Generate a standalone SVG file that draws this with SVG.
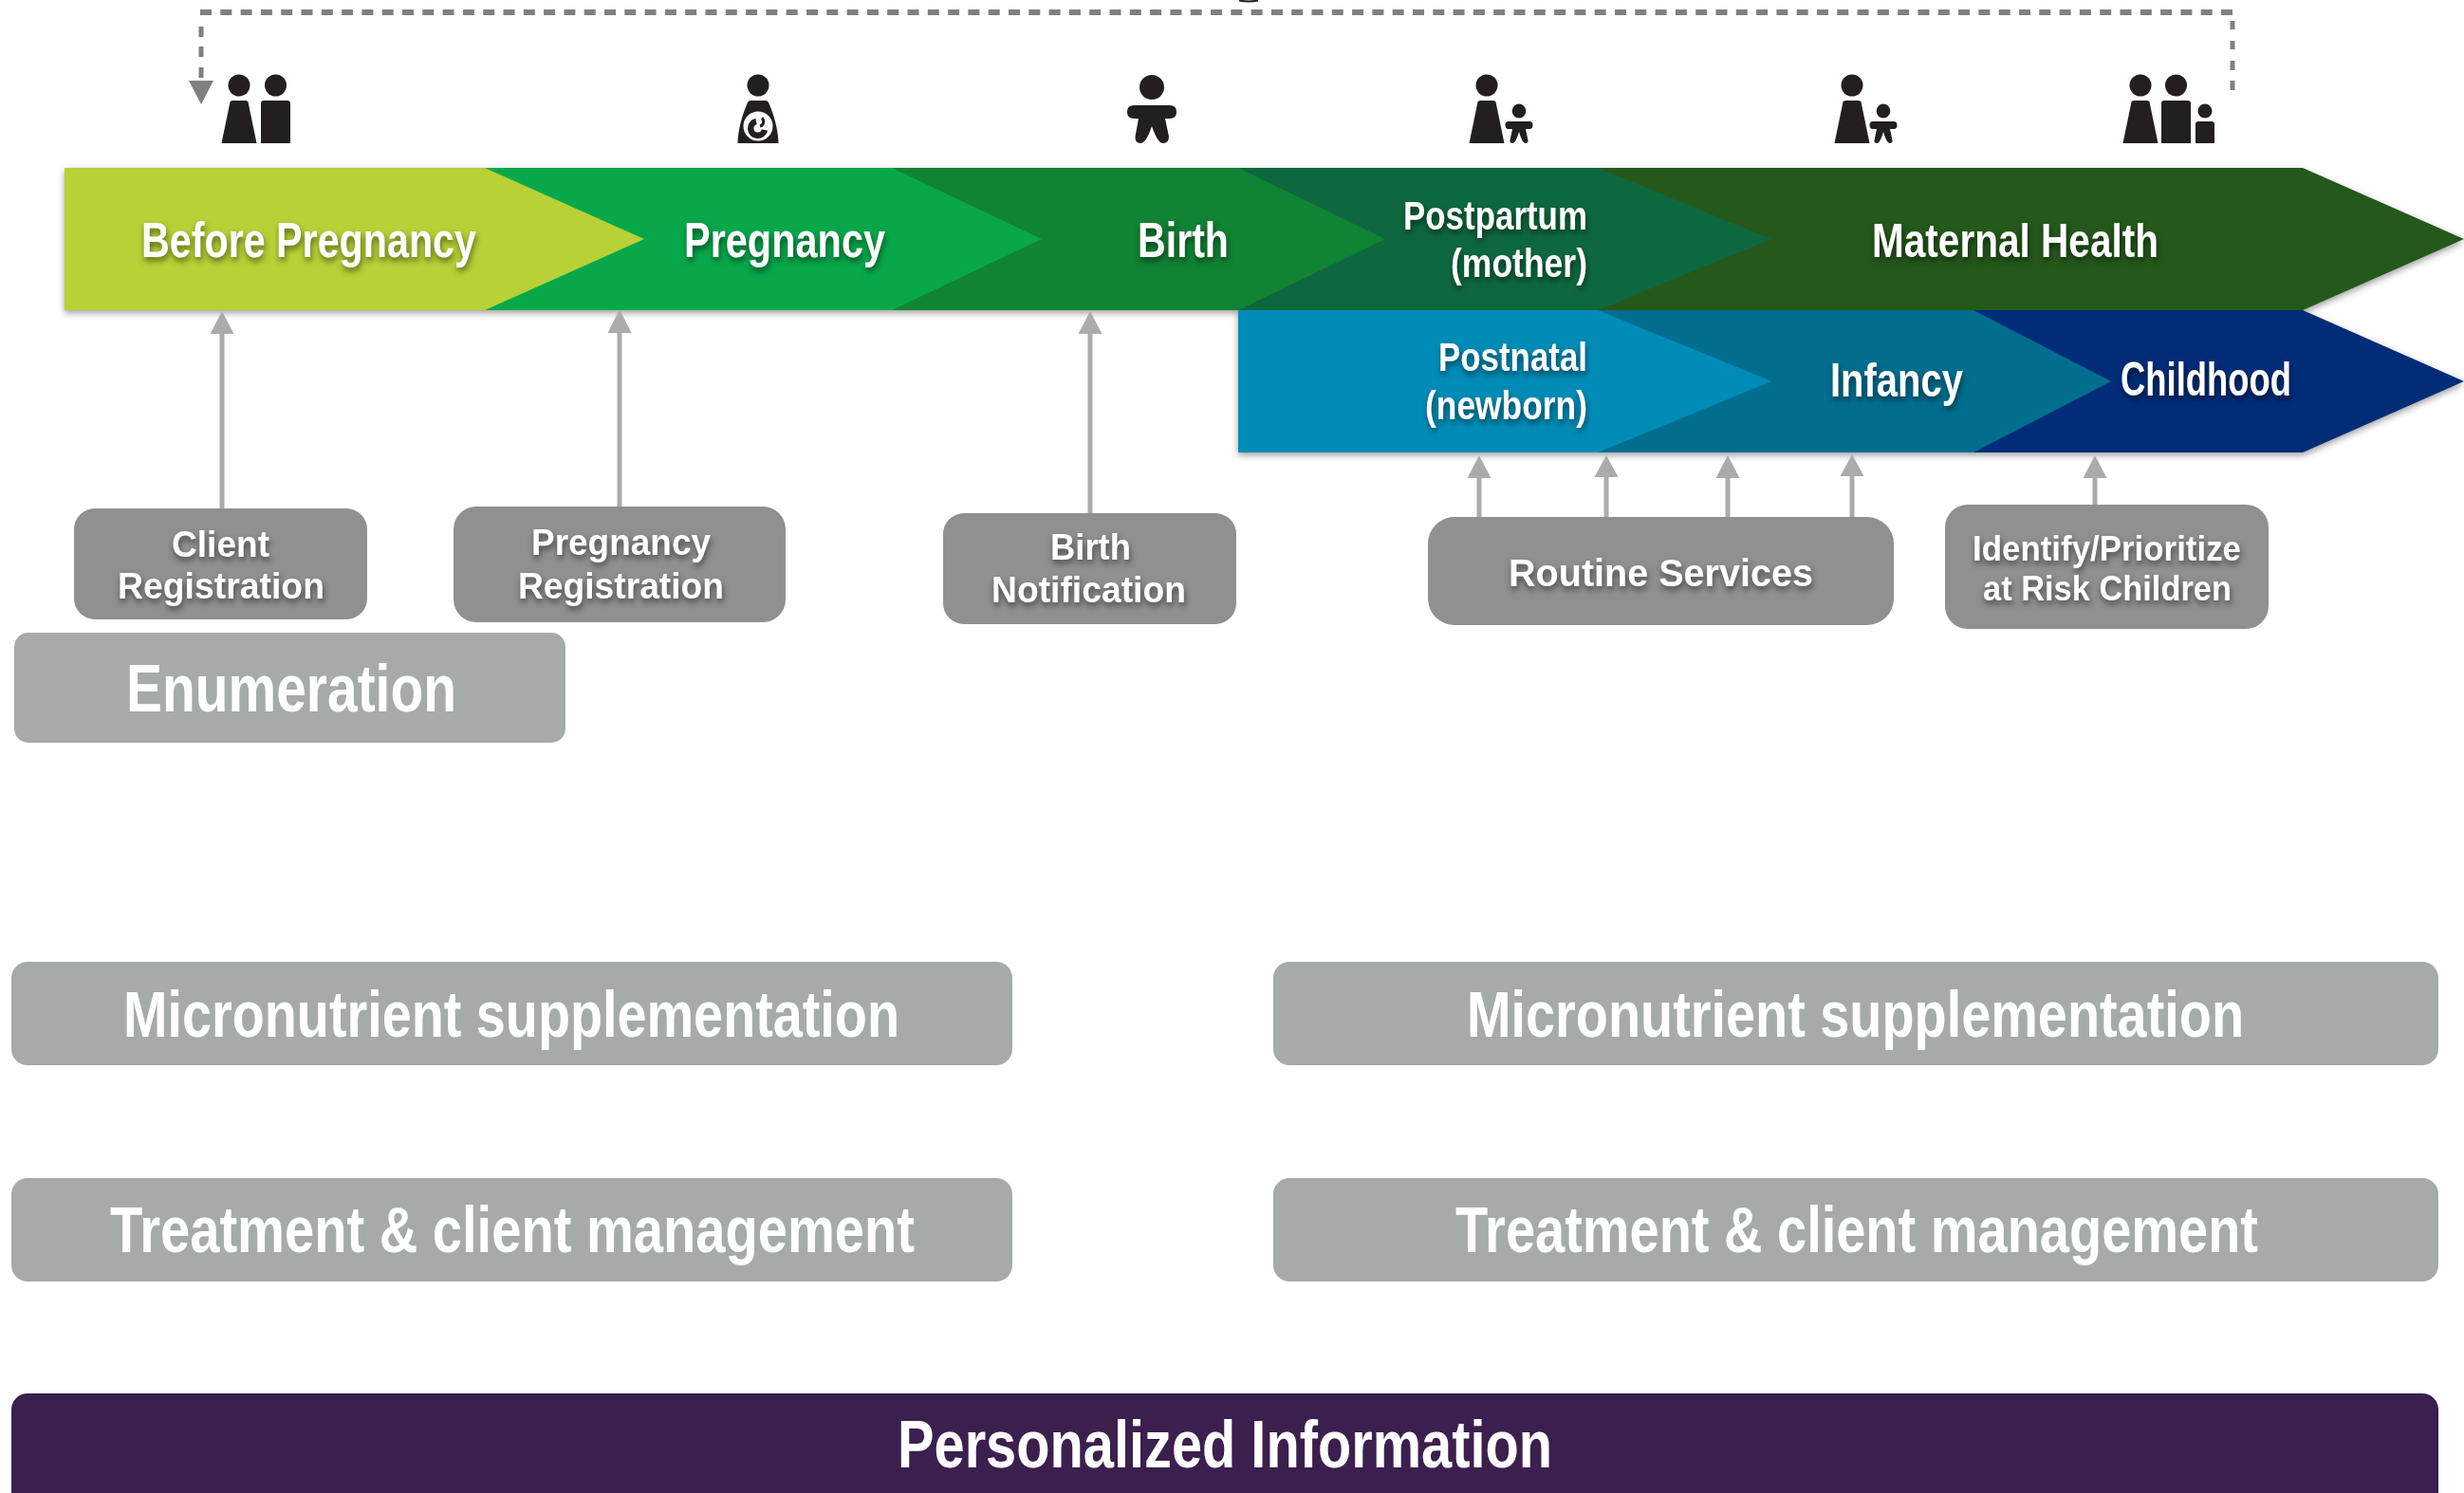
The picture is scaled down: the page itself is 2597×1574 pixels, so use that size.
<svg xmlns="http://www.w3.org/2000/svg" xmlns:xlink="http://www.w3.org/1999/xlink" width="2597" height="1574" viewBox="0 0 2597 1574">
<style>
text{font-family:"Liberation Sans",Arial,sans-serif;font-weight:700;fill:#fff}
.s{filter:url(#ts)}
.box{fill:#909090}
.pale{fill:#a6aaa9}
.ic{fill:#231f20}
.gl{stroke:#ababab;stroke-width:5;fill:none}
.gh{fill:#ababab}
.dh{stroke:#808080;stroke-width:6;fill:none;stroke-dasharray:12 9.3}
.dv{stroke:#808080;stroke-width:5;fill:none}
</style>
<defs>
<filter id="ts" x="-15%" y="-40%" width="130%" height="190%" color-interpolation-filters="sRGB"><feDropShadow dx="1" dy="4" stdDeviation="3" flood-color="#000" flood-opacity="0.5"/></filter>
<filter id="bs" x="-3%" y="-10%" width="106%" height="125%" color-interpolation-filters="sRGB"><feDropShadow dx="0" dy="3" stdDeviation="3.5" flood-color="#000" flood-opacity="0.38"/></filter>
<symbol id="woman" overflow="visible"><ellipse cx="0" cy="0" rx="11.5" ry="11.5"/><path d="M-9.5 17.5Q-9 16 -7 16H7Q9 16 9.5 17.5L18.5 61H-18.5Z"/></symbol>
<symbol id="man" overflow="visible"><ellipse cx="0" cy="0" rx="11.5" ry="11.5"/><path d="M-15.5 19Q-15.5 16 -12.5 16H12.5Q15.5 16 15.5 19V61H-15.5Z"/></symbol>
<symbol id="kid" overflow="visible"><ellipse cx="0" cy="0" rx="7.3" ry="7.6"/><path d="M-11 11H11Q14.5 11 14.5 15Q14.5 19 11 19H7L9.5 31Q10 34 6.5 34Q3.5 34 0 22Q-3.5 34 -6.5 34Q-10 34 -9.5 31L-7 19H-11Q-14.5 19 -14.5 15Q-14.5 11 -11 11Z"/></symbol>
</defs>
<rect width="2597" height="1574" fill="#fff"/>

<g id="chevrons" filter="url(#bs)">
<g id="maternal-health"><polygon points="1684,177 2427,177 2597,252 2427,327 1684,327" fill="#25591b"/></g>
<g id="childhood"><polygon points="2080,327 2427,327 2597,402 2427,477 2080,477" fill="#012d78"/></g>
<g id="infancy"><polygon points="1684,327 2080,327 2225,402 2080,477 1684,477" fill="#016e8f"/></g>
<g id="postnatal"><polygon points="1305,327 1684,327 1867,402 1684,477 1305,477" fill="#008cb7"/></g>
<g id="postpartum"><polygon points="1305,177 1684,177 1867,252 1684,327 1305,327" fill="#0e683f"/></g>
<g id="birth"><polygon points="940,177 1305,177 1460,252 1305,327 940,327" fill="#118334"/></g>
<g id="pregnancy"><polygon points="511,177 940,177 1098,252 940,327 511,327" fill="#08a84a"/></g>
<g id="before-pregnancy"><polygon points="68,177 511,177 679,252 511,327 68,327" fill="#b8d136"/></g>
</g>
<g id="chevron-labels">
<text class="s" x="149" y="271" font-size="52" textLength="353" lengthAdjust="spacingAndGlyphs">Before Pregnancy</text>
<text class="s" x="721" y="271" font-size="52" textLength="212" lengthAdjust="spacingAndGlyphs">Pregnancy</text>
<text class="s" x="1199" y="271" font-size="52" textLength="96" lengthAdjust="spacingAndGlyphs">Birth</text>
<text class="s" x="1479" y="242" font-size="43" textLength="194" lengthAdjust="spacingAndGlyphs">Postpartum</text>
<text class="s" x="1529" y="292" font-size="43" textLength="144" lengthAdjust="spacingAndGlyphs">(mother)</text>
<text class="s" x="1973" y="271" font-size="50" textLength="302" lengthAdjust="spacingAndGlyphs">Maternal Health</text>
<text class="s" x="1516" y="391" font-size="43" textLength="157" lengthAdjust="spacingAndGlyphs">Postnatal</text>
<text class="s" x="1502" y="442" font-size="43" textLength="171" lengthAdjust="spacingAndGlyphs">(newborn)</text>
<text class="s" x="1929" y="418" font-size="50" textLength="140" lengthAdjust="spacingAndGlyphs">Infancy</text>
<text class="s" x="2235" y="417" font-size="50" textLength="180" lengthAdjust="spacingAndGlyphs">Childhood</text>
</g>

<g id="icons" class="ic">
<g id="icon-couple"><use xlink:href="#woman" href="#woman" x="252" y="90"/><use xlink:href="#man" href="#man" x="290.500" y="90"/></g>
<g id="icon-pregnant"><ellipse cx="799" cy="90" rx="11.500" ry="11.500"/><path d="M791 106H807Q809 106 810 108C816 122 820 136 820.500 151H777.500C778 136 782 122 788 108Q789 106 791 106Z"/><circle cx="799" cy="133" r="15.500" fill="#fff"/><path d="M797 128A7.500 7.500 0 1 0 806 137" fill="none" stroke="#231f20" stroke-width="6.500"/><path d="M803 124.500C806 127 805 132 801 133" fill="none" stroke="#231f20" stroke-width="3"/></g>
<g id="icon-baby"><circle cx="1214" cy="92" r="13"/><path d="M1195 111H1233Q1240 111 1240 118Q1240 125 1233 125H1228L1232 144Q1232 151 1226 151Q1220 151 1214 133Q1208 151 1202 151Q1196 151 1196.500 144L1200 125H1195Q1188 125 1188 118Q1188 111 1195 111Z"/></g>
<g id="icon-mother-child"><use xlink:href="#woman" href="#woman" x="1567" y="90"/><use xlink:href="#kid" href="#kid" x="1601" y="117"/></g>
<g id="icon-mother-infant"><use xlink:href="#woman" href="#woman" x="1952" y="90"/><use xlink:href="#kid" href="#kid" x="1985" y="117"/></g>
<g id="icon-family"><use xlink:href="#woman" href="#woman" x="2256" y="90"/><use xlink:href="#man" href="#man" x="2293.500" y="90"/><circle cx="2324" cy="117" r="7.500"/><path d="M2314 131Q2314 128 2317 128H2331Q2334 128 2334 131V151H2314Z"/></g>
</g>

<g id="connectors">
<path class="dh" d="M2353 13H209"/>
<path class="dv" d="M212 28V39M212 49V60M212 71V82"/>
<polygon points="199,85 225,85 212,110" fill="#808080"/>
<path class="dv" d="M2353 22V31M2353 43V52M2353 64V74M2353 85V95"/>
<path d="M1306 0.500Q1316 2.500 1326 0.500" stroke="#231f20" stroke-width="2" fill="none"/>
<path class="gl" d="M234 352V536M653 351V534M1149 352V541M1559 504V545M1693 503V545M1821 504V545M1952 502V545M2208 504V532"/>
<polygon class="gh" points="234,328 246.500,352 221.500,352"/>
<polygon class="gh" points="653,326 665.500,351 640.500,351"/>
<polygon class="gh" points="1149,328 1161.500,352 1136.500,352"/>
<polygon class="gh" points="1559,480 1571.500,504 1546.500,504"/>
<polygon class="gh" points="1693,480 1705.500,503 1680.500,503"/>
<polygon class="gh" points="1821,480 1833.500,504 1808.500,504"/>
<polygon class="gh" points="1952,479 1964.500,502 1939.500,502"/>
<polygon class="gh" points="2208,480 2220.500,504 2195.500,504"/>
</g>

<g id="client-registration"><rect class="box" x="78" y="536" width="309" height="117" rx="22"/>
<text class="s" x="181" y="587" font-size="39" textLength="103" lengthAdjust="spacingAndGlyphs">Client</text>
<text class="s" x="124" y="631" font-size="39" textLength="218" lengthAdjust="spacingAndGlyphs">Registration</text></g>
<g id="pregnancy-registration"><rect class="box" x="478" y="534" width="350" height="122" rx="24"/>
<text class="s" x="560" y="585" font-size="39" textLength="189" lengthAdjust="spacingAndGlyphs">Pregnancy</text>
<text class="s" x="546" y="631" font-size="39" textLength="217" lengthAdjust="spacingAndGlyphs">Registration</text></g>
<g id="birth-notification"><rect class="box" x="994" y="541" width="309" height="117" rx="22"/>
<text class="s" x="1107" y="590" font-size="39" textLength="85" lengthAdjust="spacingAndGlyphs">Birth</text>
<text class="s" x="1045" y="635" font-size="39" textLength="205" lengthAdjust="spacingAndGlyphs">Notification</text></g>
<g id="routine-services"><rect class="box" x="1505" y="545" width="491" height="114" rx="28"/>
<text class="s" x="1590" y="618" font-size="41" textLength="321" lengthAdjust="spacingAndGlyphs">Routine Services</text></g>
<g id="identify-prioritize"><rect class="box" x="2050" y="532" width="341" height="131" rx="24"/>
<text class="s" x="2079" y="591" font-size="37" textLength="283" lengthAdjust="spacingAndGlyphs">Identify/Prioritize</text>
<text class="s" x="2090" y="633" font-size="37" textLength="262" lengthAdjust="spacingAndGlyphs">at Risk Children</text></g>

<g id="enumeration"><rect class="pale" x="15" y="667" width="581" height="116" rx="15"/>
<text x="133" y="750" font-size="71" textLength="348" lengthAdjust="spacingAndGlyphs">Enumeration</text></g>
<g id="micronutrient-left"><rect class="pale" x="12" y="1014" width="1055" height="109" rx="17"/>
<text x="130" y="1093" font-size="69" textLength="818" lengthAdjust="spacingAndGlyphs">Micronutrient supplementation</text></g>
<g id="micronutrient-right"><rect class="pale" x="1342" y="1014" width="1228" height="109" rx="17"/>
<text x="1546" y="1093" font-size="69" textLength="819" lengthAdjust="spacingAndGlyphs">Micronutrient supplementation</text></g>
<g id="treatment-left"><rect class="pale" x="12" y="1242" width="1055" height="109" rx="17"/>
<text x="116" y="1320" font-size="69" textLength="848" lengthAdjust="spacingAndGlyphs">Treatment &amp; client management</text></g>
<g id="treatment-right"><rect class="pale" x="1342" y="1242" width="1228" height="109" rx="17"/>
<text x="1534" y="1320" font-size="69" textLength="846" lengthAdjust="spacingAndGlyphs">Treatment &amp; client management</text></g>
<g id="personalized-information"><rect x="12" y="1469" width="2558" height="130" rx="17" fill="#3b1f4e"/>
<text x="946" y="1547" font-size="71" textLength="690" lengthAdjust="spacingAndGlyphs">Personalized Information</text></g>
</svg>
